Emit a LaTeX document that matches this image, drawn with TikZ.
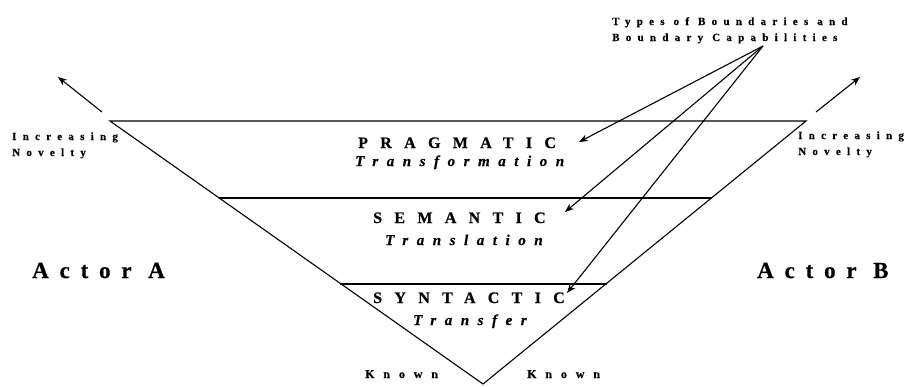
\documentclass[tikz,border=0pt]{standalone}
\usepackage{fontspec}
\setmainfont{Liberation Serif}
\newfontfamily\capsfont[LetterSpace=77,FakeBold=0.6]{Liberation Serif}
\newfontfamily\subfont[LetterSpace=57,FakeBold=0.6]{Liberation Serif}
\newfontfamily\smallfont[LetterSpace=57,FakeBold=0.4]{Liberation Serif}
\newfontfamily\knownfont[LetterSpace=74,FakeBold=0.4]{Liberation Serif}
\newfontfamily\actorfont[LetterSpace=47,FakeBold=0.6]{Liberation Serif}
\usetikzlibrary{arrows.meta}
\begin{document}
\begin{tikzpicture}[x=1pt,y=-1pt,
  edge/.style={line width=1.1pt},
  arr/.style={line width=1.1pt,-{Stealth[length=9pt,width=7pt]}},
  lvl/.style={inner sep=0pt,font=\capsfont\bfseries\fontsize{16}{20}\selectfont},
  sub/.style={inner sep=0pt,font=\subfont\bfseries\itshape\fontsize{15}{18}\selectfont},
  small/.style={inner sep=0pt,align=left,font=\smallfont\bfseries\fontsize{11}{16}\selectfont},
  known/.style={inner sep=0pt,font=\knownfont\bfseries\fontsize{12}{14}\selectfont},
  actor/.style={inner sep=0pt,font=\actorfont\bfseries\fontsize{23}{26}\selectfont}]
\useasboundingbox (0,0) rectangle (904,386);
\coordinate (TL) at (110,121);
\coordinate (TR) at (806,121);
\coordinate (B) at (483,384);
\coordinate (ML) at (219,198);
\coordinate (MR) at (712,198);
\coordinate (LL) at (340,284);
\coordinate (LR) at (607,284);
\draw[edge] (TL) -- (TR) -- (B) -- cycle;
\draw[edge] (ML) -- (MR);
\draw[edge] (LL) -- (LR);
% arrows of novelty
\coordinate (a1s) at (102,112); \coordinate (a1e) at (58,77);
\coordinate (a2s) at (816,112); \coordinate (a2e) at (860,77);
\draw[arr] (a1s) -- (a1e);
\draw[arr] (a2s) -- (a2e);
\node[small,anchor=base west] (nl) at (12,156) {Increasing\\Novelty};
\node[small,anchor=base west] (nr) at (798,155) {Increasing\\Novelty};
% levels
\node[lvl,anchor=base west] (prag) at (358,148) {PRAGMATIC};
\node[sub,anchor=base west] (trf) at (355,166) {Transformation};
\node[lvl,anchor=base west] (sem) at (373,223) {SEMANTIC};
\node[sub,anchor=base west] (trl) at (385,245) {Translation};
\node[lvl,anchor=base west] (syn) at (373,303) {SYNTACTIC};
\node[sub,anchor=base west] (tra) at (413,325) {Transfer};
\node[known,anchor=base west] (k1) at (365,378) {Known};
\node[known,anchor=base west] (k2) at (527,378) {Known};
\node[actor,anchor=base west] (aa) at (32,278) {Actor A};
\node[actor,anchor=base west] (ab) at (757,278) {Actor B};
% title
\node[small,anchor=base west] (title) at (612,41) {Types of Boundaries and\\Boundary Capabilities};
\coordinate (src) at (763,46);
\coordinate (p1) at (579,142);
\coordinate (p2) at (565,212);
\coordinate (p3) at (567,293);
\draw[arr] (src) -- (p1);
\draw[arr] (src) -- (p2);
\draw[arr] (src) -- (p3);
\end{tikzpicture}
\end{document}
